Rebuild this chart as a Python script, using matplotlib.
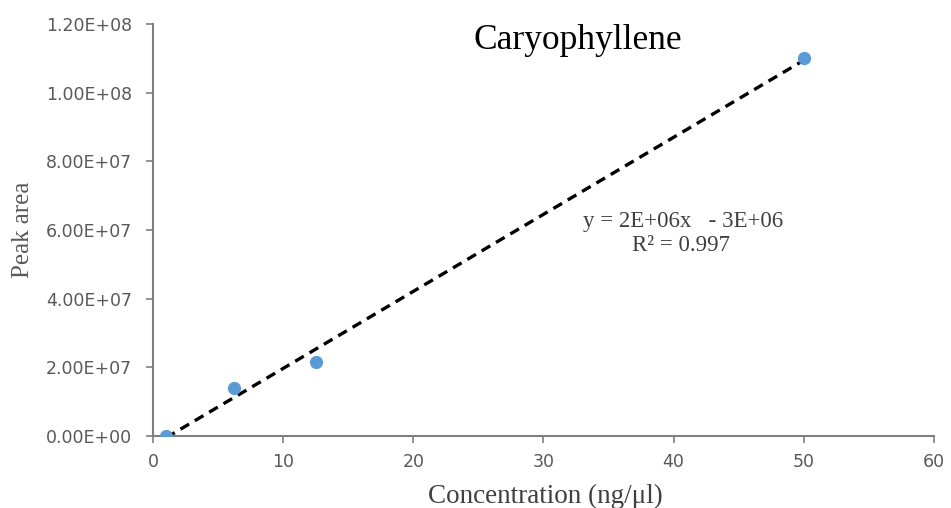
import numpy as np
import matplotlib.pyplot as plt
from matplotlib.ticker import FuncFormatter

# calibration points
conc = [1, 6.25, 12.5, 50]
area = [0, 1.4e7, 2.15e7, 1.1e8]
x_ticks = [0, 10, 20, 30, 40, 50, 60]
y_ticks = [0, 2e7, 4e7, 6e7, 8e7, 1e8, 1.2e8]

# linear trend line through the points
slope, intercept = np.polyfit(conc, area, 1)
xfit = np.array([conc[0], conc[-1]])
yfit = slope * xfit + intercept

fig = plt.figure(figsize=(9.51, 5.08), dpi=100)
ax = fig.add_axes([0.161, 0.1417, 0.821, 0.8113])

grey = '#595959'
ax.plot(xfit, yfit, color='black', lw=2.4, ls=(0, (3, 2)), zorder=2)
ax.plot(conc, area, 'o', color='#5b9bd5', ms=8.5, zorder=3)

ax.set_xlim(0, 60)
ax.set_ylim(0, 1.2e8)
ax.set_xticks(x_ticks)
ax.set_yticks(y_ticks)
ax.yaxis.set_major_formatter(FuncFormatter(lambda v, pos: '%.2E' % v))

for side in ['top', 'right']:
    ax.spines[side].set_visible(False)
for side in ['left', 'bottom']:
    ax.spines[side].set_color('#7f7f7f')
    ax.spines[side].set_linewidth(1.5)
ax.tick_params(colors='#7f7f7f', labelcolor=grey, labelsize=12.5, length=5, width=1.2)
ax.tick_params(axis='y', pad=10)
ax.tick_params(axis='x', pad=7)

ax.set_xlabel('Concentration (ng/\u03bcl)', family='Liberation Serif', fontsize=19.5,
              color='#404040', va='top')
ax.xaxis.set_label_coords(0.502, -0.115)
ax.set_ylabel('Peak area', family='Liberation Serif', fontsize=18, color=grey)
ax.yaxis.set_label_coords(-0.152, 0.5)

ax.text(32.6, 1.153e8, 'Caryophyllene', family='Liberation Serif', fontsize=25.5,
        color='black', ha='center', va='center')
ax.text(40.7, 6.26e7, 'y = 2E+06x   - 3E+06', family='Liberation Serif', fontsize=16.5,
        color='#404040', ha='center', va='center')
ax.text(40.6, 5.56e7, 'R\u00b2 = 0.997', family='Liberation Serif', fontsize=16.5,
        color='#404040', ha='center', va='center')

fig.savefig('out.png', dpi=100)
